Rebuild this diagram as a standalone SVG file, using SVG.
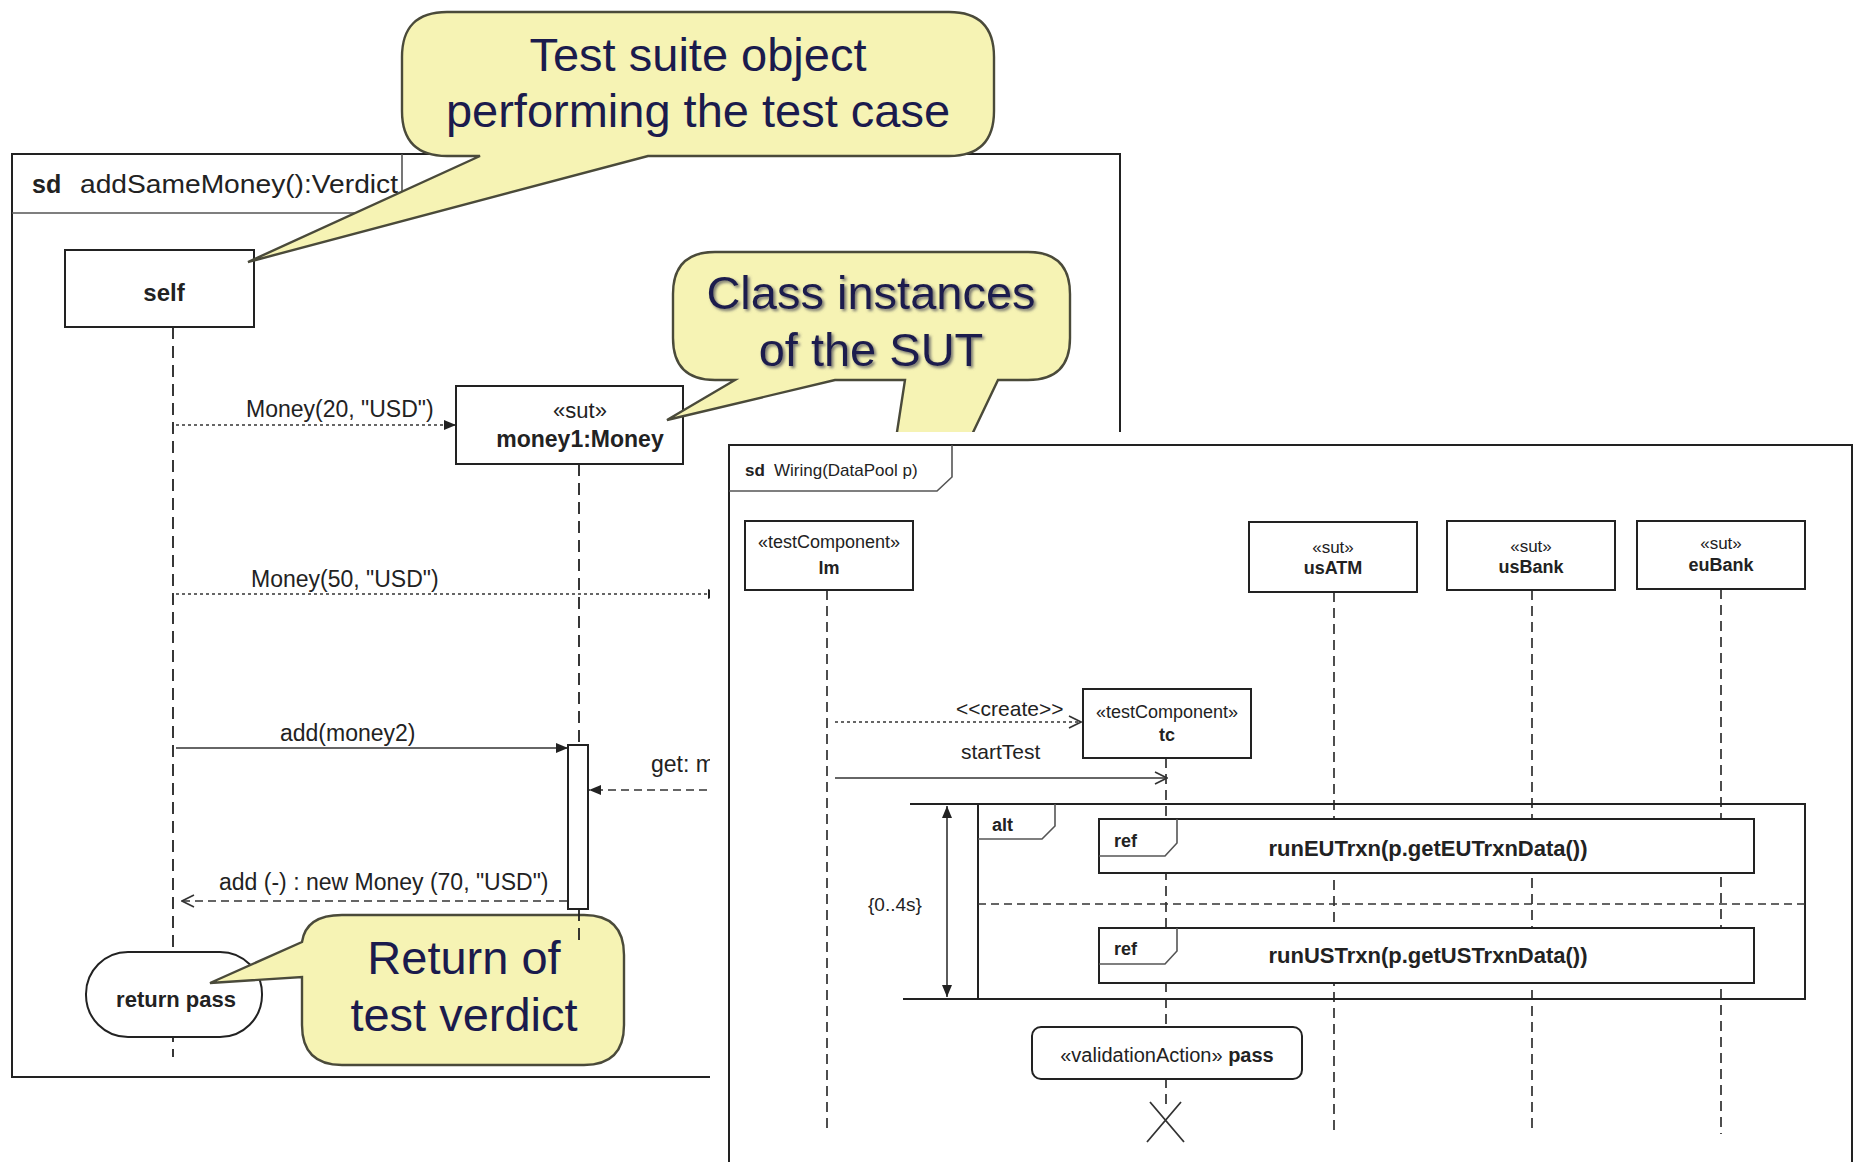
<svg xmlns="http://www.w3.org/2000/svg" width="1856" height="1162" viewBox="0 0 1856 1162">
<defs>
<style>
.t{font-family:"Liberation Sans",Arial,sans-serif;fill:#222}
.b{font-weight:bold}
.frame{fill:none;stroke:#222;stroke-width:2}
.tab{fill:none;stroke:#555;stroke-width:1.6}
.box{fill:#fff;stroke:#222;stroke-width:2}
.life{fill:none;stroke:#222;stroke-width:1.8;stroke-dasharray:12 7}
.life2{fill:none;stroke:#222;stroke-width:1.6;stroke-dasharray:10 6}
.msg{fill:none;stroke:#333;stroke-width:1.6}
.dot{fill:none;stroke:#666;stroke-width:1.8;stroke-dasharray:3 3}
.dash{fill:none;stroke:#333;stroke-width:1.6;stroke-dasharray:8 5}
.call{fill:#f6f3b4;stroke:#4a4a3a;stroke-width:2.4}
.ct{font-family:"Liberation Sans",Arial,sans-serif;font-size:47px;fill:#1b1b4d;text-anchor:middle}
.m22{font-size:23px}
.mid{text-anchor:middle}
</style>
<marker id="af" viewBox="0 0 12 10" refX="12" refY="5" markerWidth="12" markerHeight="10" markerUnits="userSpaceOnUse" orient="auto-start-reverse"><path d="M0,0 L12,5 L0,10 z" fill="#222"/></marker>
<marker id="ao" viewBox="0 0 14 14" refX="13" refY="7" markerWidth="14" markerHeight="14" markerUnits="userSpaceOnUse" orient="auto"><path d="M1,1 L13,7 L1,13" fill="none" stroke="#333" stroke-width="1.6"/></marker>
<filter id="sh" x="-10%" y="-20%" width="120%" height="150%"><feDropShadow dx="2" dy="2" stdDeviation="1.5" flood-color="#666" flood-opacity="0.9"/></filter>
</defs>
<rect width="1856" height="1162" fill="#fff"/>

<!-- LEFT PANEL -->
<g id="frame-addSameMoney">
<rect x="12" y="154" width="1108" height="923" class="frame"/>
<path d="M12,213 H387 L402,198 V154" class="tab"/>
<text x="32" y="193" class="t b" font-size="25">sd</text>
<text x="80" y="193" class="t" font-size="26" textLength="318" lengthAdjust="spacingAndGlyphs">addSameMoney():Verdict</text>
</g>

<g id="connectors-left">
<line x1="173" y1="327" x2="173" y2="1057" class="life"/>
<line x1="579" y1="464" x2="579" y2="745" class="life"/>
<line x1="176" y1="425" x2="456" y2="425" class="dot" marker-end="url(#af)"/>
<text x="246" y="417" class="t m22">Money(20, "USD")</text>
<line x1="176" y1="594" x2="720" y2="594" class="dot" stroke="#999" marker-end="url(#af)"/>
<text x="251" y="587" class="t m22">Money(50, "USD")</text>
<line x1="176" y1="748" x2="568" y2="748" class="msg" marker-end="url(#af)"/>
<text x="280" y="741" class="t m22">add(money2)</text>
<line x1="720" y1="790" x2="589" y2="790" class="dash" marker-end="url(#af)"/>
<text x="651" y="772" class="t m22">get: m</text>
<line x1="567" y1="901" x2="182" y2="901" class="dash" marker-end="url(#ao)"/>
<text x="219" y="890" class="t m22">add (-) : new Money (70, "USD")</text>
</g>

<g id="node-self">
<rect x="65" y="250" width="189" height="77" class="box"/>
<text x="164" y="301" class="t b mid" font-size="24">self</text>
</g>
<g id="node-money1">
<rect x="456" y="386" width="227" height="78" class="box"/>
<text x="580" y="418" class="t mid" font-size="22">«sut»</text>
<text x="580" y="447" class="t b mid" font-size="23">money1:Money</text>
</g>
<g id="node-activation">
<rect x="568" y="745" width="20" height="164" class="box"/>
</g>
<g id="node-return-pass">
<rect x="86" y="952" width="176" height="85" rx="42" class="box" stroke-width="1.6"/>
<text x="176" y="1007" class="t b mid" font-size="22">return pass</text>
</g>

<!-- CALLOUTS -->
<g id="callout-test-suite">
<path d="M447,12 H949 Q994,12 994,57 V111 Q994,156 949,156 H648 L248,262 L480,156 H447 Q402,156 402,111 V57 Q402,12 447,12 Z" class="call"/>
<text x="698" y="71" class="ct">Test suite object</text>
<text x="698" y="127" class="ct">performing the test case</text>
</g>
<g id="callout-class-instances">
<path d="M715,252 H1028 Q1070,252 1070,294 V338 Q1070,380 1028,380 H998 L967,445 L895,445 L905,380 H835 L667,420 L735,380 H715 Q673,380 673,338 V294 Q673,252 715,252 Z" class="call"/>
<text x="871" y="309" class="ct" filter="url(#sh)">Class instances</text>
<text x="871" y="366" class="ct" filter="url(#sh)">of the SUT</text>
</g>
<g id="callout-return-verdict">
<path d="M342,915 H584 Q624,915 624,955 V1025 Q624,1065 584,1065 H342 Q302,1065 302,1025 V977 L210,983 L302,942 Q306,915 342,915 Z" class="call"/>
<text x="464" y="974" class="ct">Return of</text>
<text x="464" y="1031" class="ct">test verdict</text>
</g>
<g id="connectors-left-top">
<line x1="579" y1="909" x2="579" y2="947" class="life"/>
</g>

<!-- overlay of right panel -->
<rect x="710" y="432" width="1146" height="730" fill="#fff"/>

<!-- RIGHT PANEL -->
<g id="frame-wiring">
<rect x="729" y="445" width="1123" height="740" class="frame"/>
<path d="M729,491 H937 L952,477 V445" class="tab"/>
<text x="745" y="476" class="t b" font-size="17">sd</text>
<text x="774" y="476" class="t" font-size="17">Wiring(DataPool p)</text>
</g>

<g id="connectors-right">
<line x1="827" y1="590" x2="827" y2="1134" class="life2"/>
<line x1="1334" y1="592" x2="1334" y2="1134" class="life2"/>
<line x1="1532" y1="590" x2="1532" y2="1134" class="life2"/>
<line x1="1721" y1="589" x2="1721" y2="1134" class="life2"/>
<line x1="1166" y1="758" x2="1166" y2="1106" class="life2"/>
<line x1="835" y1="722" x2="1081" y2="722" class="dot" marker-end="url(#ao)"/>
<text x="956" y="716" class="t" font-size="21">&lt;&lt;create&gt;&gt;</text>
<line x1="835" y1="778" x2="1167" y2="778" class="msg" marker-end="url(#ao)"/>
<text x="961" y="759" class="t" font-size="21">startTest</text>
<line x1="947" y1="806" x2="947" y2="997" class="msg" stroke-width="1.8" marker-start="url(#af)" marker-end="url(#af)"/>
<text x="868" y="911" class="t" font-size="19">{0..4s}</text>
<path d="M1147,1142 L1181,1102 M1150,1102 L1184,1142" fill="none" stroke="#333" stroke-width="1.8"/>
</g>

<g id="fragment-alt">
<path d="M910,804 H1805 V999 H903 M978,804 V999" class="frame"/>
<line x1="978" y1="904" x2="1805" y2="904" class="dash" stroke-width="1.8" stroke-dasharray="11 5"/>
<path d="M978,839 H1042 L1055,826 V804" class="tab"/>
<text x="992" y="831" class="t b" font-size="18">alt</text>
</g>

<g id="node-lm">
<rect x="745" y="521" width="168" height="69" class="box"/>
<text x="829" y="548" class="t mid" font-size="18">«testComponent»</text>
<text x="829" y="574" class="t b mid" font-size="18">lm</text>
</g>
<g id="node-usATM">
<rect x="1249" y="522" width="168" height="70" class="box"/>
<text x="1333" y="553" class="t mid" font-size="17">«sut»</text>
<text x="1333" y="574" class="t b mid" font-size="18">usATM</text>
</g>
<g id="node-usBank">
<rect x="1447" y="521" width="168" height="69" class="box"/>
<text x="1531" y="552" class="t mid" font-size="17">«sut»</text>
<text x="1531" y="573" class="t b mid" font-size="18">usBank</text>
</g>
<g id="node-euBank">
<rect x="1637" y="521" width="168" height="68" class="box"/>
<text x="1721" y="549" class="t mid" font-size="17">«sut»</text>
<text x="1721" y="571" class="t b mid" font-size="18">euBank</text>
</g>
<g id="node-tc">
<rect x="1083" y="689" width="168" height="69" class="box"/>
<text x="1167" y="718" class="t mid" font-size="18">«testComponent»</text>
<text x="1167" y="741" class="t b mid" font-size="18">tc</text>
</g>
<g id="node-ref-eu">
<rect x="1099" y="819" width="655" height="54" class="box"/>
<path d="M1099,856 H1165 L1177,843 V819" class="tab"/>
<text x="1114" y="847" class="t b" font-size="18">ref</text>
<text x="1428" y="856" class="t b mid" font-size="22">runEUTrxn(p.getEUTrxnData())</text>
</g>
<g id="node-ref-us">
<rect x="1099" y="928" width="655" height="55" class="box"/>
<path d="M1099,964 H1165 L1177,951 V928" class="tab"/>
<text x="1114" y="955" class="t b" font-size="18">ref</text>
<text x="1428" y="963" class="t b mid" font-size="22">runUSTrxn(p.getUSTrxnData())</text>
</g>
<g id="node-validation">
<rect x="1032" y="1027" width="270" height="52" rx="9" class="box" stroke="#555" stroke-width="1.6"/>
<text x="1167" y="1062" class="t mid" font-size="20">«validationAction» <tspan class="b">pass</tspan></text>
</g>
</svg>
